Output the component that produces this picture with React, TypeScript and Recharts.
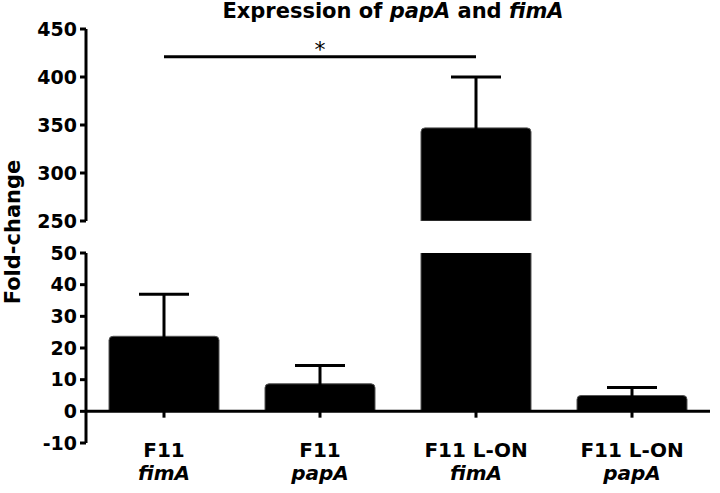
import { ComposedChart, Bar, ErrorBar, XAxis, YAxis, ReferenceLine } from 'recharts'

const FONT = '"DejaVu Sans", sans-serif'

// categories (two-line labels)
const STRAINS = ['F11', 'F11', 'F11 L-ON', 'F11 L-ON']
const GENES = ['fimA', 'papA', 'fimA', 'papA']

// mean fold-change and error (SEM); lower whisker hides inside the bar
const MEANS = [23.7, 8.7, 347, 5]
const SEMS = [13.3, 5.8, 53, 2.5]

// broken axis: two segments
const TOP_DOMAIN = [250, 450]
const TOP_TICKS = [250, 300, 350, 400, 450]
const BOTTOM_DOMAIN = [-10, 50]
const BOTTOM_TICKS = [-10, 0, 10, 20, 30, 40, 50]

// significance bracket between bar 1 and bar 3
const SIG_FROM = 0
const SIG_TO = 2
const SIG_Y = 421
const SIG_LABEL = '*'

const cats = STRAINS.map((s, i) => `${s} ${GENES[i]}`)

const topData = cats.map((cat, i) => ({
  cat,
  value: MEANS[i] >= TOP_DOMAIN[0] ? MEANS[i] : null,
  err: MEANS[i] >= TOP_DOMAIN[0] ? SEMS[i] : null,
}))

const bottomData = cats.map((cat, i) => ({
  cat,
  value: MEANS[i],
  err: MEANS[i] + SEMS[i] <= BOTTOM_DOMAIN[1] ? SEMS[i] : null,
}))

const tickStyle = { fontFamily: FONT, fontWeight: 'bold', fontSize: 19, fill: '#000' }
const axisStroke = { stroke: '#000', strokeWidth: 3 }

// eslint-disable-next-line @typescript-eslint/no-explicit-any
function CatTick({ x, y, payload }: any) {
  const i = payload.index
  return (
    <g transform={`translate(${x},${y})`}>
      <text x={0} y={14} textAnchor="middle" fontFamily={FONT} fontWeight="bold" fontSize={20} fill="#000">{STRAINS[i]}</text>
      <text x={0} y={37} textAnchor="middle" fontFamily={FONT} fontWeight="bold" fontStyle="italic" fontSize={20} fill="#000">{GENES[i]}</text>
    </g>
  )
}

const barProps = {
  dataKey: 'value',
  fill: '#000',
  stroke: '#555',
  strokeWidth: 1,
  barSize: 110,
  radius: [4, 4, 0, 0] as [number, number, number, number],
  isAnimationActive: false,
}

export default function App() {
  return (
    <div style={{ position: 'absolute', left: 0, top: 0, width: 720, height: 493, background: '#fff', fontFamily: FONT }}>
      <div style={{ position: 'absolute', left: 76, top: -1, width: 634, textAlign: 'center', fontSize: 21, fontWeight: 'bold', color: '#000', whiteSpace: 'nowrap' }}>
        Expression of <i>papA</i> and <i>fimA</i>
      </div>
      <div style={{ position: 'absolute', left: -87, top: 220, width: 200, height: 24, lineHeight: '24px', textAlign: 'center', fontSize: 21, fontWeight: 'bold', color: '#000', transform: 'rotate(-90deg)' }}>
        Fold-change
      </div>

      {/* upper segment 250-450 */}
      <div style={{ position: 'absolute', left: 0, top: 0 }}>
        <ComposedChart width={720} height={236} data={topData} margin={{ top: 29, right: 10, bottom: 15, left: 0 }}>
          <XAxis dataKey="cat" hide />
          <YAxis
            domain={TOP_DOMAIN}
            ticks={TOP_TICKS}
            allowDataOverflow
            interval={0}
            width={86}
            tick={tickStyle}
            axisLine={axisStroke}
            tickLine={axisStroke}
            tickSize={6}
            tickMargin={3}
          />
          <Bar {...barProps}>
            <ErrorBar dataKey="err" width={25} stroke="#000" strokeWidth={3} direction="y" />
          </Bar>
          <ReferenceLine
            segment={[{ x: cats[SIG_FROM], y: SIG_Y }, { x: cats[SIG_TO], y: SIG_Y }]}
            stroke="#000"
            strokeWidth={3}
            ifOverflow="visible"
            label={{ value: SIG_LABEL, position: 'top', offset: 0, fill: '#000', fontSize: 22, fontFamily: FONT }}
          />
        </ComposedChart>
      </div>

      {/* lower segment -10-50 */}
      <div style={{ position: 'absolute', left: 0, top: 236 }}>
        <ComposedChart width={720} height={257} data={bottomData} margin={{ top: 17, right: 10, bottom: 0, left: 0 }}>
          <XAxis dataKey="cat" axisLine={false} tickLine={false} tickSize={0} tickMargin={0} height={50} interval={0} tick={<CatTick />} />
          <YAxis
            domain={BOTTOM_DOMAIN}
            ticks={BOTTOM_TICKS}
            allowDataOverflow
            interval={0}
            width={86}
            tick={tickStyle}
            axisLine={axisStroke}
            tickLine={axisStroke}
            tickSize={6}
            tickMargin={3}
          />
          <Bar {...barProps}>
            <ErrorBar dataKey="err" width={25} stroke="#000" strokeWidth={3} direction="y" />
          </Bar>
          <ReferenceLine y={0} stroke="#000" strokeWidth={3} />
          {cats.map((c) => (
            <ReferenceLine key={c} segment={[{ x: c, y: 0 }, { x: c, y: -2 }]} stroke="#000" strokeWidth={3} ifOverflow="visible" />
          ))}
        </ComposedChart>
      </div>
    </div>
  )
}
